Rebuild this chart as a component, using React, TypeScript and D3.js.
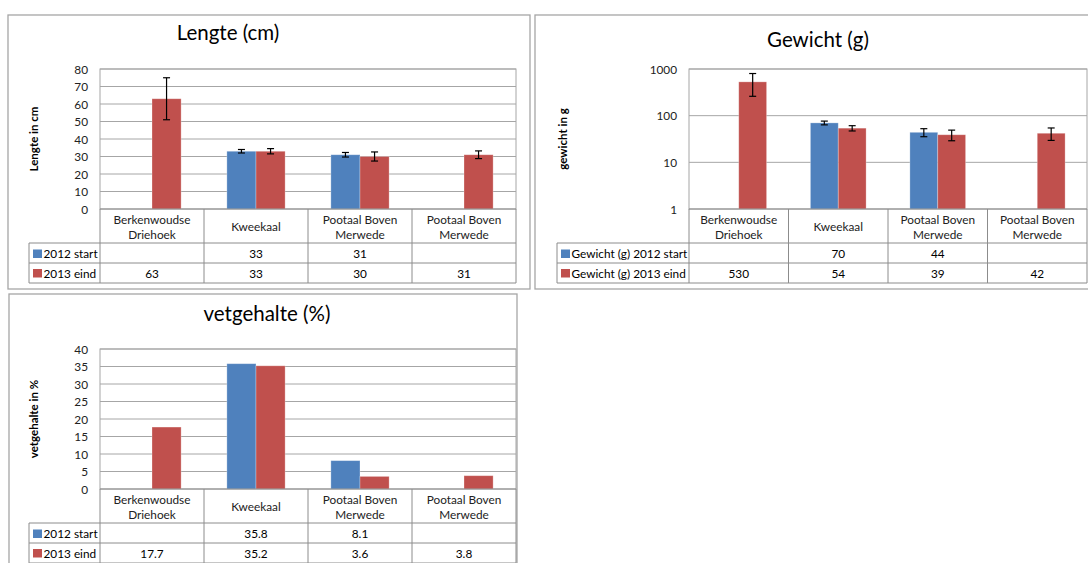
import React from "react";
import * as d3 from "d3";

// ---------- data ----------
const categories: string[][] = [
  ["Berkenwoudse", "Driehoek"],
  ["Kweekaal"],
  ["Pootaal Boven", "Merwede"],
  ["Pootaal Boven", "Merwede"],
];

const lengte2012: (number | null)[] = [null, 33, 31, null];
const lengte2013: (number | null)[] = [63, 33, 30, 31];
const lengteErr2012: (number | null)[] = [null, 1, 1.3, null];
const lengteErr2013: (number | null)[] = [12, 1.5, 2.6, 2.2];
const lengteTicks = [0, 10, 20, 30, 40, 50, 60, 70, 80];

const gewicht2012: (number | null)[] = [null, 70, 44, null];
const gewicht2013: (number | null)[] = [530, 54, 39, 42];
const gewichtErr2012: (number | null)[] = [null, 6.5, 8.6, null];
const gewichtErr2013: (number | null)[] = [270, 7, 10, 12.5];
const gewichtTicks = [1, 10, 100, 1000];

const vet2012: (number | null)[] = [null, 35.8, 8.1, null];
const vet2013: (number | null)[] = [17.7, 35.2, 3.6, 3.8];
const vetTicks = [0, 5, 10, 15, 20, 25, 30, 35, 40];

const BLUE = "#4F81BD";
const RED = "#C0504D";
const FONT = "Lato, 'Open Sans', sans-serif";
const GRID = "#a6a6a6";
const TABLE = "#8c8c8c";
const FS = 11.8;

type Series = {
  label: string;
  color: string;
  values: (number | null)[];
  errors?: (number | null)[];
};

type Props = {
  frame: { x: number; y: number; w: number; h: number };
  title: string;
  titleX: number;
  titleY: number;
  yLabel: string;
  yLabelX: number;
  plot: { x0: number; x1: number; y0: number; y1: number };
  legendX: number;
  log?: boolean;
  domain: [number, number];
  ticks: number[];
  series: Series[];
};

function BarTableChart(p: Props) {
  const { plot } = p;
  const x = d3
    .scaleBand<number>()
    .domain(d3.range(categories.length))
    .range([plot.x0, plot.x1]);
  const sub = d3
    .scaleBand<number>()
    .domain([0, 1])
    .range([0, x.bandwidth()])
    .paddingInner(0)
    .paddingOuter(0.786);
  const y: any = p.log
    ? d3.scaleLog().domain(p.domain).range([plot.y1, plot.y0])
    : d3.scaleLinear().domain(p.domain).range([plot.y1, plot.y0]);
  const base = p.log ? p.domain[0] : 0;

  const headerBottom = plot.y1 + 34;
  const row1Bottom = plot.y1 + 54;
  const row2Bottom = plot.y1 + 74;
  const rowCenters = [plot.y1 + 44.5, plot.y1 + 64];

  return (
    <g fontFamily={FONT}>
      <rect
        x={p.frame.x}
        y={p.frame.y}
        width={p.frame.w}
        height={p.frame.h}
        fill="#fff"
        stroke="#a6a6a6"
        strokeWidth={1.3}
      />
      <text x={p.titleX} y={p.titleY} textAnchor="middle" fontSize={20.5} fill="#000">
        {p.title}
      </text>
      <text
        transform={`translate(${p.yLabelX},${(plot.y0 + plot.y1) / 2}) rotate(-90)`}
        textAnchor="middle"
        dominantBaseline="central"
        fontSize={11.5}
        fontWeight="bold"
        fill="#000"
      >
        {p.yLabel}
      </text>
      {/* gridlines */}
      {p.ticks.map((t) =>
        t === base ? null : (
          <line
            key={"g" + t}
            x1={plot.x0}
            x2={plot.x1}
            y1={y(t)}
            y2={y(t)}
            stroke={GRID}
            strokeWidth={1}
          />
        )
      )}
      <rect
        x={plot.x0}
        y={plot.y0}
        width={plot.x1 - plot.x0}
        height={plot.y1 - plot.y0}
        fill="none"
        stroke={GRID}
        strokeWidth={1}
      />
      {/* tick labels */}
      {p.ticks.map((t) => (
        <text
          key={"t" + t}
          x={plot.x0 - 12}
          y={y(t)}
          textAnchor="end"
          dominantBaseline="central"
          fontSize={FS}
          fill="#222"
        >
          {t}
        </text>
      ))}
      {/* bars */}
      {p.series.map((s, si) =>
        s.values.map((v, ci) => {
          if (v == null) return null;
          const bx = (x(ci) as number) + (sub(si) as number);
          const bw = sub.bandwidth();
          return (
            <rect
              key={`b${si}-${ci}`}
              x={bx}
              y={y(v)}
              width={bw}
              height={y(base) - y(v)}
              fill={s.color}
              stroke="#ffffff"
              strokeOpacity={0.35}
              strokeWidth={0.8}
            />
          );
        })
      )}
      {/* error bars */}
      {p.series.map((s, si) =>
        s.values.map((v, ci) => {
          const e = s.errors ? s.errors[ci] : null;
          if (v == null || e == null) return null;
          const cx = (x(ci) as number) + (sub(si) as number) + sub.bandwidth() / 2;
          const yt = y(v + e);
          const yb = y(v - e);
          return (
            <g key={`e${si}-${ci}`} stroke="#000" strokeWidth={1.2}>
              <line x1={cx} x2={cx} y1={yt} y2={yb} />
              <line x1={cx - 3.5} x2={cx + 3.5} y1={yt} y2={yt} />
              <line x1={cx - 3.5} x2={cx + 3.5} y1={yb} y2={yb} />
            </g>
          );
        })
      )}
      {/* table lines */}
      <g stroke={TABLE} strokeWidth={1}>
        <line x1={plot.x0} x2={plot.x1} y1={plot.y1} y2={plot.y1} />
        <line x1={p.legendX} x2={plot.x1} y1={headerBottom} y2={headerBottom} />
        <line x1={p.legendX} x2={plot.x1} y1={row1Bottom} y2={row1Bottom} />
        <line x1={p.legendX} x2={plot.x1} y1={row2Bottom} y2={row2Bottom} />
        <line x1={p.legendX} x2={p.legendX} y1={headerBottom} y2={row2Bottom} />
        {categories.map((_, ci) => (
          <line
            key={"v" + ci}
            x1={x(ci) as number}
            x2={x(ci) as number}
            y1={plot.y1}
            y2={row2Bottom}
          />
        ))}
        <line x1={plot.x1} x2={plot.x1} y1={plot.y1} y2={row2Bottom} />
      </g>
      {/* category labels */}
      {categories.map((lines, ci) => {
        const cx = (x(ci) as number) + x.bandwidth() / 2;
        const cy = plot.y1 + 17.5;
        return lines.map((ln, li) => (
          <text
            key={`c${ci}-${li}`}
            x={cx}
            y={cy + (li - (lines.length - 1) / 2) * 15}
            textAnchor="middle"
            dominantBaseline="central"
            fontSize={FS}
            fill="#222"
          >
            {ln}
          </text>
        ));
      })}
      {/* legend column and values */}
      {p.series.map((s, si) => (
        <g key={"l" + si}>
          <rect
            x={p.legendX + 4}
            y={rowCenters[si] - 4}
            width={9}
            height={8.5}
            fill={s.color}
          />
          <text
            x={p.legendX + 14.5}
            y={rowCenters[si]}
            dominantBaseline="central"
            fontSize={FS}
            fill="#000"
          >
            {s.label}
          </text>
          {s.values.map((v, ci) =>
            v == null ? null : (
              <text
                key={`v${si}-${ci}`}
                x={(x(ci) as number) + x.bandwidth() / 2}
                y={rowCenters[si]}
                textAnchor="middle"
                dominantBaseline="central"
                fontSize={FS}
                fill="#000"
              >
                {String(v)}
              </text>
            )
          )}
        </g>
      ))}
    </g>
  );
}

export default function App() {
  return (
    <svg
      width={1088}
      height={563}
      style={{ position: "fixed", left: 0, top: 0, display: "block", background: "#fff" }}
    >
      <rect x={0} y={0} width={1088} height={563} fill="#fff" />
      <BarTableChart
        frame={{ x: 8, y: 15, w: 522, h: 274 }}
        title="Lengte (cm)"
        titleX={228}
        titleY={39.5}
        yLabel="Lengte in cm"
        yLabelX={33}
        plot={{ x0: 100, x1: 516, y0: 69, y1: 209 }}
        legendX={29}
        domain={[0, 80]}
        ticks={lengteTicks}
        series={[
          { label: "2012 start", color: BLUE, values: lengte2012, errors: lengteErr2012 },
          { label: "2013 eind", color: RED, values: lengte2013, errors: lengteErr2013 },
        ]}
      />
      <BarTableChart
        frame={{ x: 535, y: 15, w: 570, h: 274 }}
        title="Gewicht (g)"
        titleX={818}
        titleY={47}
        yLabel="gewicht in g"
        yLabelX={562}
        plot={{ x0: 689, x1: 1087, y0: 69, y1: 209 }}
        legendX={557}
        log
        domain={[1, 1000]}
        ticks={gewichtTicks}
        series={[
          { label: "Gewicht (g) 2012 start", color: BLUE, values: gewicht2012, errors: gewichtErr2012 },
          { label: "Gewicht (g) 2013 eind", color: RED, values: gewicht2013, errors: gewichtErr2013 },
        ]}
      />
      <BarTableChart
        frame={{ x: 9, y: 294, w: 508, h: 300 }}
        title="vetgehalte (%)"
        titleX={267}
        titleY={321}
        yLabel="vetgehalte in %"
        yLabelX={33}
        plot={{ x0: 100, x1: 516, y0: 349, y1: 489 }}
        legendX={29}
        domain={[0, 40]}
        ticks={vetTicks}
        series={[
          { label: "2012 start", color: BLUE, values: vet2012 },
          { label: "2013 eind", color: RED, values: vet2013 },
        ]}
      />
    </svg>
  );
}
